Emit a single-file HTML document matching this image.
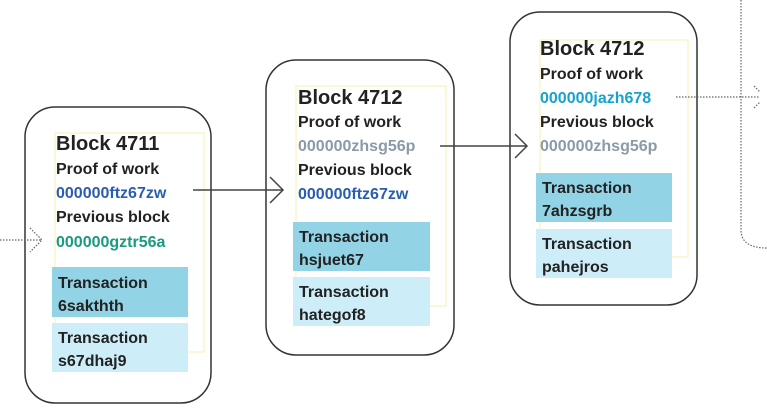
<!DOCTYPE html>
<html><head><style>body{margin:0;background:#fff}svg{display:block}text{font-family:"Liberation Sans",sans-serif;font-weight:bold;font-size:16px;fill:#222}</style></head>
<body>
<svg width="767" height="413" viewBox="0 0 767 413">
<g fill="none" stroke="#333" stroke-width="1.5">
<rect x="25" y="107" width="186" height="296" rx="30"/>
<rect x="266" y="60" width="188" height="295" rx="30"/>
<rect x="510" y="12" width="187" height="293" rx="30"/>
</g>
<g fill="none" stroke="#f5f0b0" stroke-width="1">
<rect x="55" y="133" width="149" height="219"/>
<rect x="296" y="86" width="150" height="220"/>
<rect x="540" y="40" width="148" height="217"/>
</g>
<rect x="52" y="267" width="136" height="50" fill="#93d3e6"/>
<rect x="52" y="323" width="136" height="49" fill="#cdeef8"/>
<rect x="293" y="222" width="137" height="49" fill="#93d3e6"/>
<rect x="293" y="277" width="137" height="49" fill="#cdeef8"/>
<rect x="536" y="173" width="136" height="49" fill="#93d3e6"/>
<rect x="536" y="229" width="136" height="49" fill="#cdeef8"/>
<g fill="none" stroke="#444" stroke-width="1.5">
<path d="M193 190H283M270 177L283 190L270 203"/>
<path d="M440 146H527M515 134L527 146L515 158"/>
</g>
<g fill="none" stroke="#666" stroke-width="1.2" stroke-dasharray="1.5,1.5">
<path d="M0 240H42M30 228L42 240L30 252"/>
<path d="M676 97H760M754 86L760 92M754 108L760 102"/>
<path d="M741 0V230Q741 248 767 248"/>
</g>
<text x="56" y="150" style="font-size:20px">Block 4711</text>
<text x="56" y="174">Proof of work</text>
<text x="56" y="198" fill="#2a5db0" style="fill:#2a5db0">000000ftz67zw</text>
<text x="56" y="222">Previous block</text>
<text x="56" y="247" style="fill:#1a9a7e">000000gztr56a</text>
<text x="58" y="288">Transaction</text><text x="58" y="311">6sakthth</text>
<text x="58" y="343">Transaction</text><text x="58" y="366">s67dhaj9</text>
<text x="298" y="104" style="font-size:20px">Block 4712</text>
<text x="298" y="127">Proof of work</text>
<text x="298" y="151" style="fill:#8a9aa8">000000zhsg56p</text>
<text x="298" y="175">Previous block</text>
<text x="298" y="199" style="fill:#2a5db0">000000ftz67zw</text>
<text x="299" y="242">Transaction</text><text x="299" y="265">hsjuet67</text>
<text x="299" y="297">Transaction</text><text x="299" y="320">hategof8</text>
<text x="540" y="55" style="font-size:20px">Block 4712</text>
<text x="540" y="79">Proof of work</text>
<text x="540" y="103" style="fill:#17a3cc">000000jazh678</text>
<text x="540" y="127">Previous block</text>
<text x="540" y="151" style="fill:#8a9aa8">000000zhsg56p</text>
<text x="542" y="193">Transaction</text><text x="542" y="216">7ahzsgrb</text>
<text x="542" y="249">Transaction</text><text x="542" y="272">pahejros</text>
</svg>
</body></html>
